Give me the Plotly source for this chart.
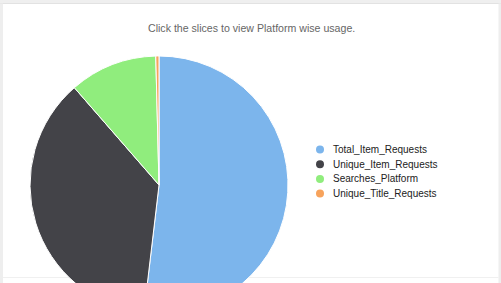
import plotly.graph_objects as go

labels = ["Total_Item_Requests", "Unique_Item_Requests", "Searches_Platform", "Unique_Title_Requests"]
values = [5190, 3675, 1100, 40]
colors = ["#7cb5ec", "#434348", "#90ed7d", "#f7a35c"]
subtitle = "Click the slices to view Platform wise usage."

W, H = 501, 330


def px(x):
    return x / W


def py(y):
    return 1 - y / H


fig = go.Figure()
fig.add_trace(go.Pie(
    labels=labels,
    values=values,
    marker=dict(colors=colors, line=dict(color="#ffffff", width=1)),
    sort=False,
    direction="clockwise",
    rotation=0,
    textinfo="none",
    hoverinfo="label+value+percent",
    domain=dict(x=[px(30), px(288)], y=[py(314), py(56)]),
    showlegend=False,
))

shapes = [
    # card frame
    dict(type="rect", xref="paper", yref="paper", x0=0, x1=1, y0=py(0), y1=py(3.5),
         fillcolor="#efefef", line=dict(width=0), layer="below"),
    dict(type="line", xref="paper", yref="paper", x0=0, x1=1, y0=py(3.5), y1=py(3.5),
         line=dict(color="#e2e2e2", width=1), layer="below"),
    dict(type="rect", xref="paper", yref="paper", x0=0, x1=px(3), y0=py(283), y1=py(3.5),
         fillcolor="#eeeeee", line=dict(width=0), layer="below"),
    dict(type="rect", xref="paper", yref="paper", x0=px(498.5), x1=1, y0=py(283), y1=py(3.5),
         fillcolor="#eeeeee", line=dict(width=0), layer="below"),
    dict(type="line", xref="paper", yref="paper", x0=px(3), x1=px(498.5), y0=py(277.5), y1=py(277.5),
         line=dict(color="#f0f0f0", width=1), layer="below"),
]

annotations = [
    dict(text=subtitle, xref="paper", yref="paper", x=px(251.5), y=py(28),
         xanchor="center", yanchor="middle", showarrow=False,
         font=dict(family="Liberation Sans, Arial, sans-serif", size=10.6, color="#666666")),
]

row_y = [149.5, 164.2, 178.9, 193.6]
for lab, col, yy in zip(labels, colors, row_y):
    shapes.append(dict(type="circle", xref="paper", yref="paper",
                       x0=px(316), x1=px(324), y0=py(yy + 4), y1=py(yy - 4),
                       fillcolor=col, line=dict(width=0)))
    annotations.append(dict(text=lab, xref="paper", yref="paper", x=px(331), y=py(yy),
                            xanchor="left", yanchor="middle", showarrow=False,
                            font=dict(family="Liberation Sans, Arial, sans-serif", size=10,
                                      color="#222222")))

fig.update_layout(
    width=W, height=H,
    margin=dict(l=0, r=0, t=0, b=0),
    paper_bgcolor="#ffffff",
    plot_bgcolor="#ffffff",
    shapes=shapes,
    annotations=annotations,
    showlegend=False,
)

fig.write_html(
    "out.html",
    config={"displayModeBar": False},
    post_script="document.body.style.margin='0';document.body.style.overflow='hidden';document.documentElement.style.overflow='hidden';",
)
